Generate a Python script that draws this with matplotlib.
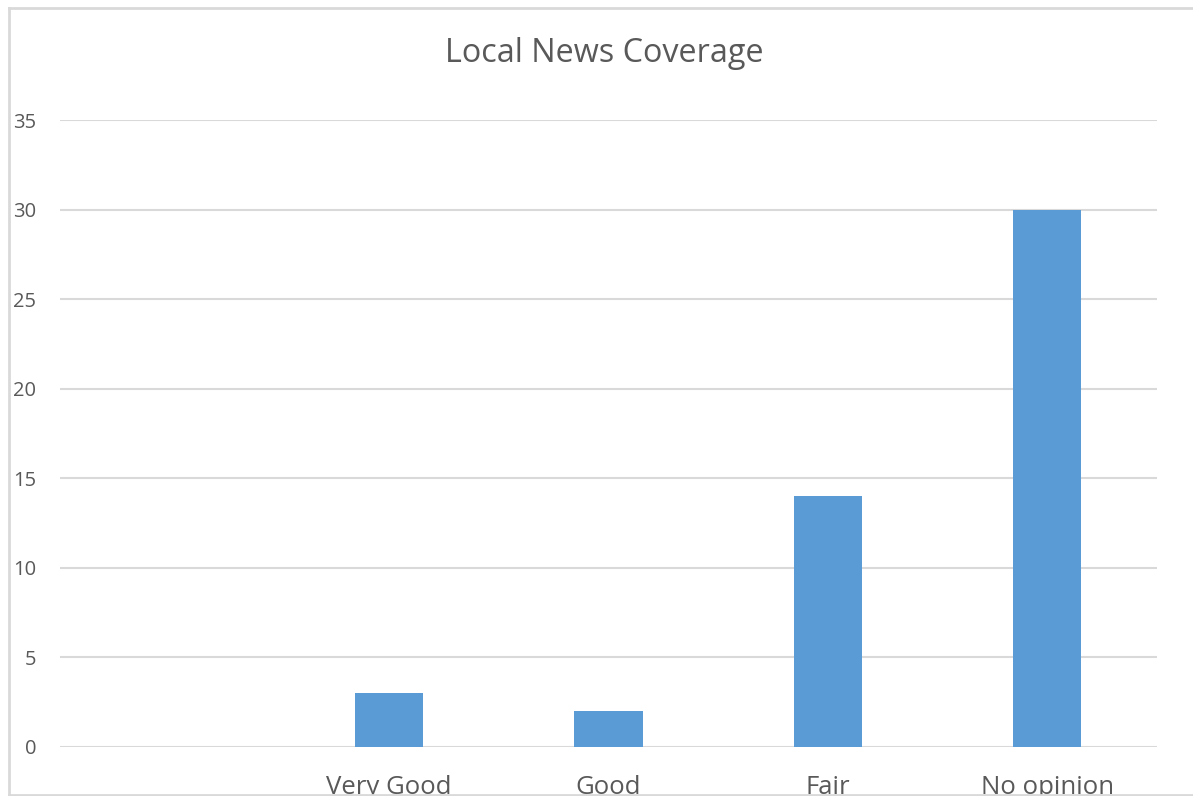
import matplotlib.pyplot as plt
from matplotlib.lines import Line2D
import numpy as np

categories = ["", "Very Good", "Good", "Fair", "No opinion"]
values = [0, 3, 2, 14, 30]
yticks = [0, 5, 10, 15, 20, 25, 30, 35]

plt.rcParams['font.family'] = ['Open Sans', 'DejaVu Sans']
text_col = "#595959"
grid_col = "#d9d9d9"

W, H = 1193, 796
fig = plt.figure(figsize=(W / 100, H / 100), dpi=100)
ax = fig.add_axes([60 / W, (H - 747) / H, (1157 - 60) / W, (747 - 120) / H])

x = np.arange(len(categories))
ax.bar(x, values, width=0.31, color="#5b9bd5", zorder=3)

ax.set_xlim(-0.5, len(categories) - 0.5)
ax.set_ylim(0, 35)
ax.set_yticks(yticks)
ax.set_xticks(x)
ax.set_xticklabels(categories)
ax.grid(axis="y", color=grid_col, linewidth=1.5, zorder=0)
for s in ax.spines.values():
    s.set_visible(False)
ax.tick_params(axis="y", length=0, pad=17, labelsize=14.5, labelcolor=text_col)
ax.tick_params(axis="x", length=0, pad=20, labelsize=18.5, labelcolor=text_col)

fig.text(604 / W, 1 - 54 / H, "Local News Coverage", ha="center", va="center",
         fontsize=23.3, color=text_col)

# outer chart border (right side is cropped off in the original)
bx0, by0, by1 = 8.5 / W, 1.5 / H, 1 - 8 / H
for xs, ys in [([bx0, 1.0], [by1, by1]), ([bx0, bx0], [by0, by1]), ([bx0, 1.0], [by0, by0])]:
    fig.add_artist(Line2D(xs, ys, color=grid_col, linewidth=2, zorder=10))

fig.savefig("out.png", dpi=100)
